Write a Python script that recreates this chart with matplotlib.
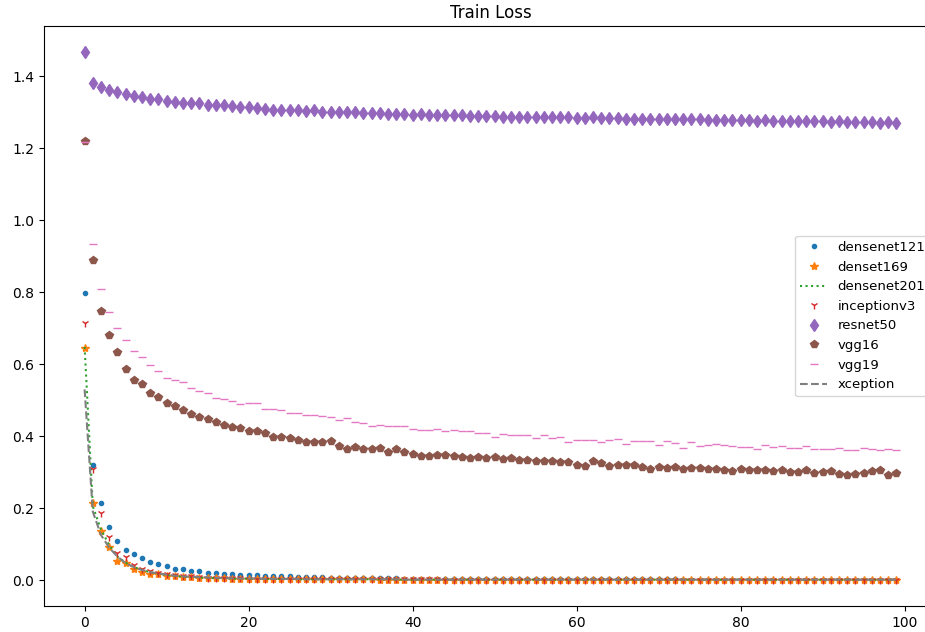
import matplotlib
matplotlib.use("Agg")
import matplotlib.pyplot as plt
import numpy as np

epochs = np.arange(100)

densenet121 = [
    0.797, 0.319, 0.213, 0.148, 0.109, 0.083, 0.071, 0.060, 0.050, 0.044,
    0.039, 0.032, 0.030, 0.026, 0.024, 0.020, 0.019, 0.018, 0.018, 0.015,
    0.014, 0.013, 0.012, 0.011, 0.010, 0.010, 0.009, 0.009, 0.008, 0.008,
    0.007, 0.007, 0.006, 0.006, 0.006, 0.005, 0.005, 0.005, 0.005, 0.004,
    0.004, 0.004, 0.004, 0.004, 0.003, 0.003, 0.003, 0.003, 0.003, 0.003,
    0.003, 0.003, 0.003, 0.003, 0.002, 0.002, 0.002, 0.002, 0.002, 0.002,
    0.002, 0.002, 0.002, 0.002, 0.002, 0.002, 0.002, 0.002, 0.002, 0.002,
    0.002, 0.002, 0.002, 0.001, 0.001, 0.001, 0.001, 0.001, 0.001, 0.001,
    0.001, 0.001, 0.001, 0.001, 0.001, 0.001, 0.001, 0.001, 0.001, 0.001,
    0.001, 0.001, 0.001, 0.001, 0.001, 0.001, 0.001, 0.001, 0.001, 0.001,
]

denset169 = [
    0.645, 0.213, 0.137, 0.092, 0.054, 0.046, 0.032, 0.023, 0.018, 0.016,
    0.012, 0.010, 0.009, 0.008, 0.007, 0.006, 0.005, 0.005, 0.004, 0.004,
    0.004, 0.003, 0.003, 0.003, 0.003, 0.003, 0.002, 0.002, 0.002, 0.002,
    0.002, 0.002, 0.002, 0.002, 0.002, 0.002, 0.001, 0.001, 0.001, 0.001,
    0.001, 0.001, 0.001, 0.001, 0.001, 0.001, 0.001, 0.001, 0.001, 0.001,
    0.001, 0.001, 0.001, 0.001, 0.001, 0.001, 0.001, 0.001, 0.001, 0.001,
    0.001, 0.001, 0.001, 0.001, 0.001, 0.001, 0.001, 0.001, 0.001, 0.001,
    0.001, 0.001, 0.001, 0.001, 0.001, 0.001, 0.001, 0.001, 0.001, 0.001,
    0.001, 0.001, 0.001, 0.001, 0.001, 0.001, 0.001, 0.001, 0.001, 0.001,
    0.001, 0.001, 0.001, 0.001, 0.001, 0.001, 0.001, 0.001, 0.001, 0.001,
]

densenet201 = [
    0.648, 0.205, 0.140, 0.097, 0.065, 0.048, 0.036, 0.028, 0.022, 0.017,
    0.014, 0.011, 0.009, 0.008, 0.007, 0.006, 0.005, 0.005, 0.004, 0.004,
    0.004, 0.003, 0.003, 0.003, 0.003, 0.003, 0.002, 0.002, 0.002, 0.002,
    0.002, 0.002, 0.002, 0.002, 0.002, 0.002, 0.002, 0.002, 0.001, 0.001,
    0.001, 0.001, 0.001, 0.001, 0.001, 0.001, 0.001, 0.001, 0.001, 0.001,
    0.001, 0.001, 0.001, 0.001, 0.001, 0.001, 0.001, 0.001, 0.001, 0.001,
    0.001, 0.001, 0.001, 0.001, 0.001, 0.001, 0.001, 0.001, 0.001, 0.001,
    0.001, 0.001, 0.001, 0.001, 0.001, 0.001, 0.001, 0.001, 0.001, 0.001,
    0.001, 0.001, 0.001, 0.001, 0.001, 0.001, 0.001, 0.001, 0.001, 0.001,
    0.001, 0.001, 0.001, 0.001, 0.001, 0.001, 0.001, 0.001, 0.001, 0.001,
]

inceptionv3 = [
    0.716, 0.310, 0.185, 0.119, 0.076, 0.063, 0.042, 0.031, 0.026, 0.020,
    0.016, 0.013, 0.011, 0.010, 0.008, 0.007, 0.006, 0.006, 0.005, 0.005,
    0.004, 0.004, 0.004, 0.004, 0.003, 0.003, 0.003, 0.003, 0.003, 0.003,
    0.002, 0.002, 0.002, 0.002, 0.002, 0.002, 0.002, 0.002, 0.002, 0.002,
    0.002, 0.002, 0.002, 0.002, 0.001, 0.001, 0.001, 0.001, 0.001, 0.001,
    0.001, 0.001, 0.001, 0.001, 0.001, 0.001, 0.001, 0.001, 0.001, 0.001,
    0.001, 0.001, 0.001, 0.001, 0.001, 0.001, 0.001, 0.001, 0.001, 0.001,
    0.001, 0.001, 0.001, 0.001, 0.001, 0.001, 0.001, 0.001, 0.001, 0.001,
    0.001, 0.001, 0.001, 0.001, 0.001, 0.001, 0.001, 0.001, 0.001, 0.001,
    0.001, 0.001, 0.001, 0.001, 0.001, 0.001, 0.001, 0.001, 0.001, 0.001,
]

resnet50 = [
    1.467, 1.383, 1.370, 1.363, 1.356, 1.350, 1.347, 1.342, 1.338, 1.337,
    1.332, 1.328, 1.327, 1.325, 1.327, 1.321, 1.321, 1.320, 1.317, 1.316,
    1.314, 1.313, 1.311, 1.308, 1.308, 1.306, 1.306, 1.305, 1.307, 1.301,
    1.302, 1.302, 1.300, 1.300, 1.299, 1.298, 1.298, 1.297, 1.296, 1.296,
    1.294, 1.295, 1.293, 1.293, 1.292, 1.292, 1.292, 1.290, 1.291, 1.289,
    1.289, 1.288, 1.288, 1.288, 1.287, 1.288, 1.287, 1.286, 1.287, 1.286,
    1.285, 1.285, 1.286, 1.284, 1.284, 1.284, 1.283, 1.283, 1.283, 1.282,
    1.282, 1.282, 1.281, 1.281, 1.282, 1.281, 1.279, 1.279, 1.280, 1.278,
    1.278, 1.278, 1.277, 1.278, 1.277, 1.276, 1.276, 1.277, 1.276, 1.275,
    1.275, 1.274, 1.275, 1.273, 1.274, 1.273, 1.273, 1.272, 1.273, 1.272,
]

vgg16 = [
    1.222, 0.889, 0.748, 0.682, 0.634, 0.588, 0.557, 0.546, 0.519, 0.509,
    0.493, 0.484, 0.474, 0.461, 0.452, 0.449, 0.438, 0.432, 0.426, 0.424,
    0.414, 0.414, 0.409, 0.398, 0.399, 0.396, 0.389, 0.383, 0.383, 0.383,
    0.387, 0.372, 0.364, 0.370, 0.363, 0.365, 0.367, 0.357, 0.363, 0.356,
    0.350, 0.345, 0.346, 0.347, 0.349, 0.345, 0.341, 0.339, 0.341, 0.340,
    0.342, 0.336, 0.338, 0.333, 0.334, 0.331, 0.330, 0.331, 0.329, 0.327,
    0.321, 0.317, 0.330, 0.324, 0.317, 0.321, 0.321, 0.321, 0.313, 0.309,
    0.315, 0.311, 0.315, 0.309, 0.311, 0.312, 0.310, 0.308, 0.305, 0.303,
    0.308, 0.306, 0.305, 0.306, 0.304, 0.306, 0.301, 0.300, 0.307, 0.297,
    0.299, 0.303, 0.295, 0.293, 0.296, 0.298, 0.302, 0.305, 0.293, 0.297,
]

vgg19 = [
    1.217, 0.933, 0.810, 0.745, 0.701, 0.667, 0.637, 0.620, 0.598, 0.582,
    0.563, 0.557, 0.551, 0.535, 0.525, 0.520, 0.507, 0.502, 0.498, 0.489,
    0.491, 0.492, 0.476, 0.476, 0.472, 0.465, 0.465, 0.458, 0.458, 0.457,
    0.453, 0.446, 0.451, 0.440, 0.437, 0.429, 0.432, 0.427, 0.429, 0.428,
    0.420, 0.416, 0.417, 0.419, 0.415, 0.416, 0.415, 0.414, 0.409, 0.408,
    0.397, 0.406, 0.402, 0.402, 0.402, 0.394, 0.402, 0.394, 0.398, 0.384,
    0.390, 0.390, 0.389, 0.383, 0.389, 0.392, 0.379, 0.387, 0.387, 0.387,
    0.376, 0.386, 0.381, 0.367, 0.385, 0.373, 0.375, 0.377, 0.376, 0.372,
    0.369, 0.371, 0.365, 0.376, 0.370, 0.372, 0.368, 0.366, 0.372, 0.364,
    0.364, 0.365, 0.366, 0.361, 0.362, 0.366, 0.363, 0.361, 0.364, 0.362,
]

xception = [
    0.530, 0.190, 0.125, 0.090, 0.065, 0.047, 0.036, 0.028, 0.022, 0.018,
    0.015, 0.012, 0.010, 0.009, 0.008, 0.007, 0.006, 0.005, 0.005, 0.004,
    0.004, 0.004, 0.003, 0.003, 0.003, 0.003, 0.003, 0.002, 0.002, 0.002,
    0.002, 0.002, 0.002, 0.002, 0.002, 0.002, 0.002, 0.002, 0.002, 0.001,
    0.001, 0.001, 0.001, 0.001, 0.001, 0.001, 0.001, 0.001, 0.001, 0.001,
    0.001, 0.001, 0.001, 0.001, 0.001, 0.001, 0.001, 0.001, 0.001, 0.001,
    0.001, 0.001, 0.001, 0.001, 0.001, 0.001, 0.001, 0.001, 0.001, 0.001,
    0.001, 0.001, 0.001, 0.001, 0.001, 0.001, 0.001, 0.001, 0.001, 0.001,
    0.001, 0.001, 0.001, 0.001, 0.001, 0.001, 0.001, 0.001, 0.001, 0.001,
    0.001, 0.001, 0.001, 0.001, 0.001, 0.001, 0.001, 0.001, 0.001, 0.001,
]

fig = plt.figure(figsize=(9.25, 6.32), dpi=100)
# the axes run slightly past the right edge of the canvas
ax = fig.add_axes([0.0476, 0.0411, 0.9654, 0.9177])

ax.plot(epochs, densenet121, ".", color="C0", label="densenet121")
ax.plot(epochs, denset169, "*", color="C1", label="denset169")
ax.plot(epochs, densenet201, ":", color="C2", label="densenet201")
ax.plot(epochs, inceptionv3, "1", color="C3", label="inceptionv3")
ax.plot(epochs, resnet50, "d", color="C4", label="resnet50")
ax.plot(epochs, vgg16, "p", color="C5", label="vgg16")
ax.plot(epochs, vgg19, "_", color="C6", label="vgg19")
ax.plot(epochs, xception, "--", color="C7", label="xception")

ax.set_title("Train Loss")
ax.legend(loc="center right", fontsize=9.5)

fig.savefig("out.png", dpi=100)
